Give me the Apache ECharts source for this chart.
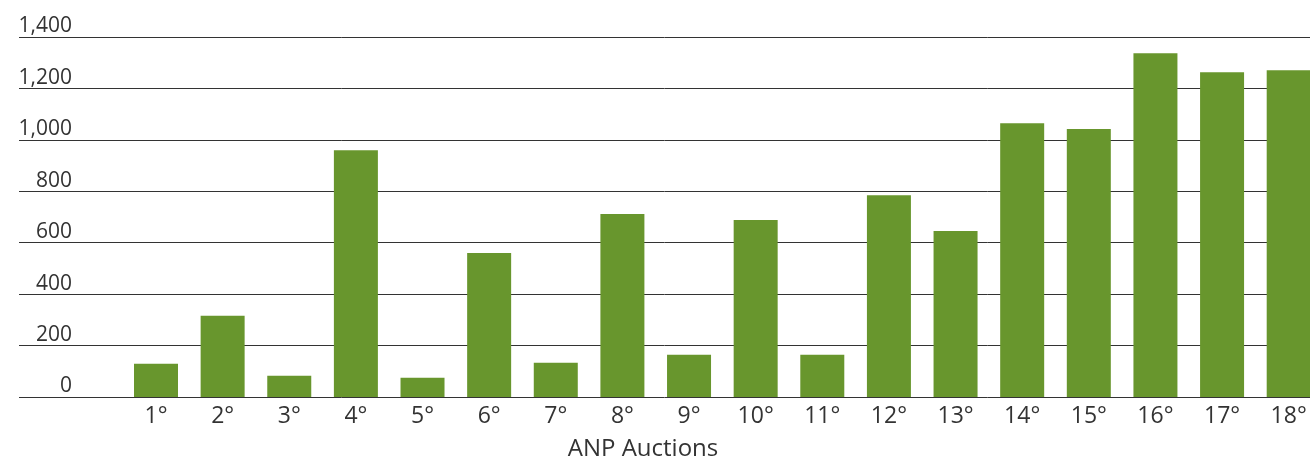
<!DOCTYPE html>
<html>
<head>
<meta charset="utf-8">
<title>ANP Auctions</title>
<script src="https://cdn.jsdelivr.net/npm/echarts@6/dist/echarts.min.js"></script>
<style>
  html, body { margin: 0; padding: 0; background: #fff; }
  #chart { width: 1310px; height: 462px; }
</style>
</head>
<body>
<div id="chart"></div>
<script>
const auctions = ['1°', '2°', '3°', '4°', '5°', '6°', '7°', '8°', '9°', '10°', '11°', '12°', '13°', '14°', '15°', '16°', '17°', '18°']
const values = [129, 316, 83, 960, 75, 560, 133, 712, 164, 688, 164, 785, 646, 1065, 1042, 1337, 1263, 1271]
const yMin = 0
const yMax = 1400
const yStep = 200
const axisTitle = 'ANP Auctions'

const FONT = '"Open Sans", "Noto Sans", sans-serif'
const TEXT = '#333333'

const chart = echarts.init(document.getElementById('chart'))

const option = {
  animation: false,
  textStyle: { fontFamily: FONT },
  // grid 0 carries the horizontal rules and value labels, which run wider than the bars;
  // grid 1 puts the category points between the first and last bar centres (last bar is cut by the edge)
  grid: [
    { left: 19, right: 0, top: 37, bottom: 65 },
    { left: 156, right: 21.3, top: 37, bottom: 65 }
  ],
  xAxis: [
    { gridIndex: 0, type: 'value', min: 0, max: 1, show: false },
    {
      gridIndex: 1,
      type: 'category',
      data: auctions,
      boundaryGap: false,
      axisLine: { show: false },
      axisTick: { show: false },
      axisLabel: { color: TEXT, fontSize: 23, fontFamily: FONT, margin: 8 }
    }
  ],
  yAxis: [
    {
      gridIndex: 0,
      type: 'value',
      min: yMin,
      max: yMax,
      interval: yStep,
      axisLine: { show: false },
      axisTick: { show: false },
      splitLine: { lineStyle: { color: '#333', width: 1 } },
      axisLabel: {
        color: TEXT,
        fontSize: 21,
        fontFamily: FONT,
        align: 'right',
        verticalAlign: 'bottom',
        margin: -53,
        formatter: v => v.toLocaleString('en-US')
      }
    },
    { gridIndex: 1, type: 'value', min: yMin, max: yMax, show: false }
  ],
  graphic: [
    {
      type: 'text',
      x: 643,
      y: 449,
      style: {
        text: axisTitle,
        fill: TEXT,
        font: '24px ' + FONT,
        textAlign: 'center',
        textVerticalAlign: 'middle'
      }
    }
  ],
  series: [
    {
      type: 'bar',
      xAxisIndex: 1,
      yAxisIndex: 1,
      data: values,
      barWidth: 44,
      clip: false,
      itemStyle: { color: '#68962d' }
    }
  ]
}

chart.setOption(option)
</script>
</body>
</html>
